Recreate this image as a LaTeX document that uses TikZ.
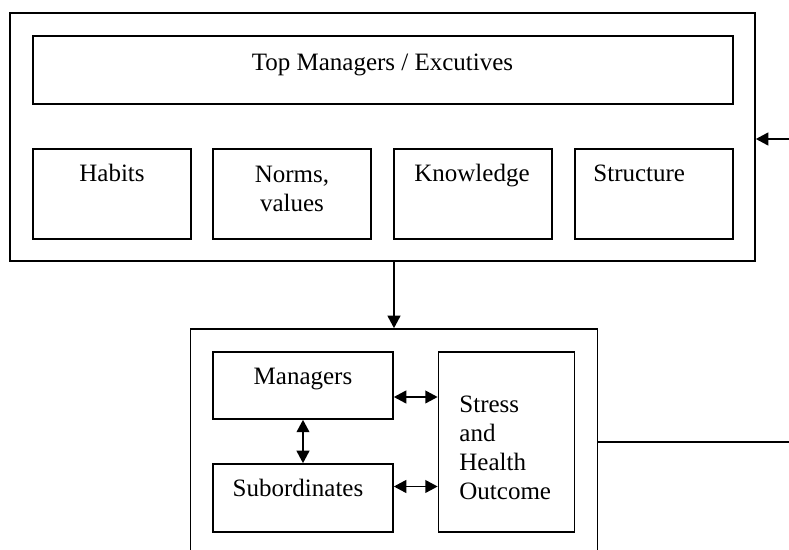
\documentclass[tikz,border=0pt]{standalone}
\usepackage{fontspec}
\setmainfont{Liberation Serif}
\usetikzlibrary{arrows.meta}
\begin{document}
\begin{tikzpicture}[x=0.5pt,y=-0.5pt,
  box/.style={draw, line width=0.85pt, inner sep=0pt},
  lbl/.style={inner sep=0pt, font=\fontsize{12.5pt}{14.5pt}\selectfont},
  tip/.tip={Triangle[length=6.2pt,width=6.4pt]},
  arr/.style={line width=0.85pt, -tip},
  dbl/.style={line width=0.85pt, tip-tip}]
\useasboundingbox (0,0) rectangle (789,550);
% upper block
\node[box, minimum width=372.5pt, minimum height=124pt] (top) at (382.5,137) {};
\node[box, minimum width=350pt, minimum height=34pt] (topm) at (383,70) {};
\node[box, minimum width=79pt, minimum height=45pt] (hab) at (112,194) {};
\node[box, minimum width=79pt, minimum height=45pt] (nor) at (292,194) {};
\node[box, minimum width=79pt, minimum height=45pt] (kno) at (473,194) {};
\node[box, minimum width=79pt, minimum height=45pt] (str) at (654,194) {};
\node[lbl, anchor=base] (topmt) at (382.5,70.5) {Top Managers / Excutives};
\node[lbl, anchor=base] (habt) at (112,182) {Habits};
\node[lbl, anchor=north, align=center] (nort) at (292,165.5) {Norms,\\values};
\node[lbl, anchor=base] (knot) at (472,182) {Knowledge};
\node[lbl, anchor=base west] (strt) at (593,182) {Structure};
% lower block
\node[box, minimum width=203.5pt, minimum height=135.5pt] (low) at (394,464.5) {};
\node[box, minimum width=90pt, minimum height=33.5pt] (mgr) at (303,385.5) {};
\node[box, minimum width=90pt, minimum height=34pt] (sub) at (303,498) {};
\node[box, minimum width=68pt, minimum height=90pt] (sho) at (506.5,442) {};
\node[lbl, anchor=base] (mgrt) at (303,385) {Managers};
\node[lbl, anchor=base] (subt) at (298,497) {Subordinates};
\node[lbl, anchor=north west, align=left] (shot) at (459,396) {Stress\\and\\Health\\Outcome};
% connectors
\draw[arr] (low.north |- top.south) -- (low.north);
\draw[dbl] ([yshift=-5.75pt]mgr.east) -- ([yshift=-5.75pt]mgr.east -| sho.west);
\draw[dbl] ([yshift=5.75pt]sub.east) -- ([yshift=5.75pt]sub.east -| sho.west);
\draw[dbl] (mgr.south) -- (sub.north);
\coordinate (fb) at (810,442);
\draw[arr] ([yshift=11.25pt]low.east) -- (fb) |- ([yshift=-1pt]top.east);
\end{tikzpicture}
\end{document}
